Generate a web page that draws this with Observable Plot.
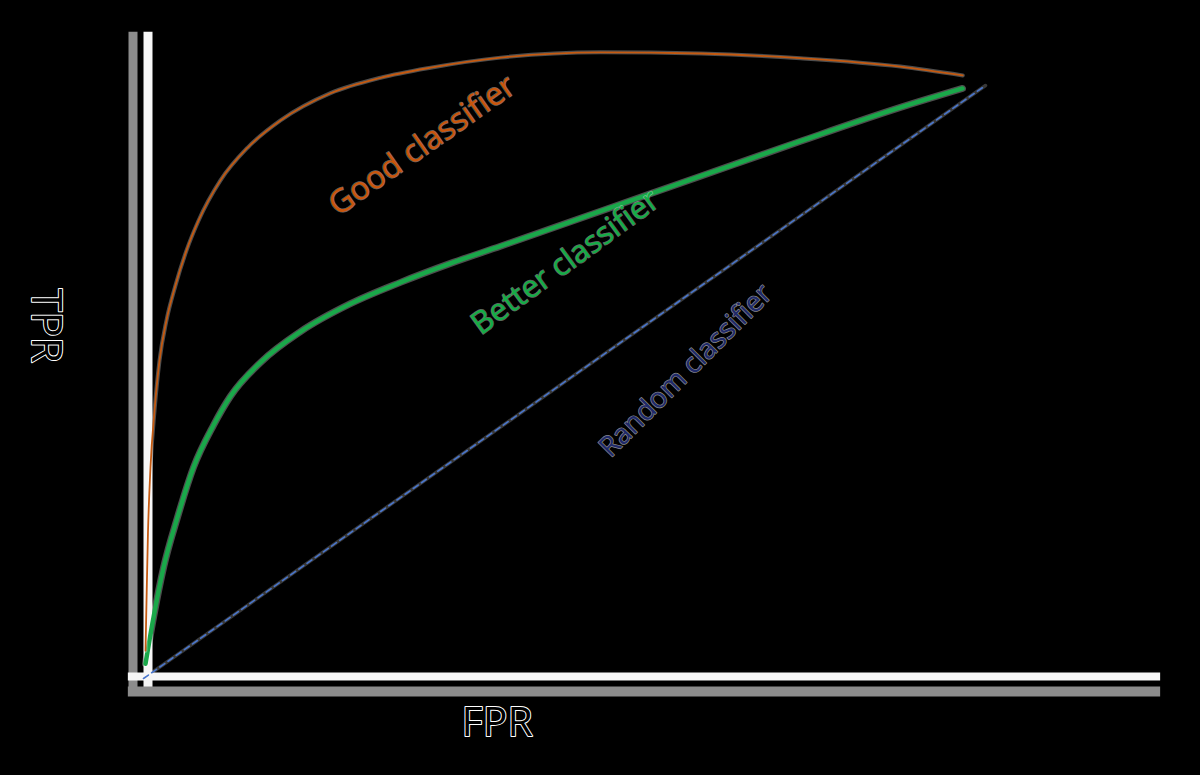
<!DOCTYPE html>
<html>
<head>
<meta charset="utf-8">
<script src="https://cdn.jsdelivr.net/npm/d3@7"></script>
<script src="https://cdn.jsdelivr.net/npm/@observablehq/plot@0.6"></script>
<style>
  html, body { margin: 0; padding: 0; background: #000; }
  #chart svg { display: block; }
</style>
</head>
<body>
<div id="chart"></div>
<script>
// ---- data ----
const goodFPR = [0.0024, 0.0036, 0.0053, 0.0083, 0.0131, 0.0190, 0.0273, 0.0380, 0.0511, 0.0653, 0.0914, 0.1235, 0.1627, 0.2221, 0.2815, 0.3409, 0.424, 0.543, 0.662, 0.780, 0.899, 0.973];
const goodTPR = [0.047, 0.132, 0.245, 0.356, 0.452, 0.536, 0.604, 0.663, 0.722, 0.772, 0.840, 0.895, 0.941, 0.987, 1.013, 1.030, 1.047, 1.056, 1.054, 1.046, 1.032, 1.017];

const betterFPR = [0.0024, 0.0119, 0.0238, 0.0404, 0.0594, 0.0831, 0.1033, 0.1390, 0.1865, 0.2458, 0.3052, 0.3646, 0.4240, 0.5428, 0.6615, 0.7803, 0.8990, 0.9727];
const betterTPR = [0.025, 0.103, 0.187, 0.272, 0.356, 0.427, 0.476, 0.533, 0.585, 0.632, 0.668, 0.700, 0.729, 0.788, 0.847, 0.906, 0.963, 0.995];

const randomFPR = [0, 1];
const randomTPR = [0, 1];

const labelTexts = ["Good classifier", "Better classifier", "Random classifier"];
const labelFPR = [0.331, 0.501, 0.644];
const labelTPR = [0.899, 0.702, 0.519];

const xAxisExtent = [-0.018, 1.208];
const yAxisExtent = [-0.02, 1.09];

// ---- tables ----
const good = goodFPR.map((x, i) => ({x, y: goodTPR[i]}));
const better = betterFPR.map((x, i) => ({x, y: betterTPR[i]}));
const random = randomFPR.map((x, i) => ({x, y: randomTPR[i]}));

const font = "'Open Sans', 'Noto Sans', sans-serif";

const chart = Plot.plot({
  width: 1200,
  height: 775,
  margin: 0,
  style: {background: "#000", fontFamily: font},
  x: {domain: [0, 1], range: [143, 985], axis: null},
  y: {domain: [0, 1], range: [678, 85], axis: null},
  marks: [
    // axes (bands with halos)
    Plot.ruleX([0], {y1: yAxisExtent[0], y2: yAxisExtent[1], dx: -10.5, stroke: "#8c8c8c", strokeWidth: 9}),
    Plot.ruleX([0], {y1: yAxisExtent[0], y2: yAxisExtent[1], dx: 4.5, stroke: "#f6f6f6", strokeWidth: 9}),
    Plot.ruleY([0], {x1: xAxisExtent[0], x2: xAxisExtent[1], dy: 13, stroke: "#8c8c8c", strokeWidth: 10}),
    Plot.ruleY([0], {x1: xAxisExtent[0], x2: xAxisExtent[1], dy: -2, stroke: "#f6f6f6", strokeWidth: 8}),

    // random classifier
    Plot.line(random, {x: "x", y: "y", stroke: "white", strokeOpacity: 0.22, strokeWidth: 3.5}),
    Plot.line(random, {x: "x", y: "y", stroke: "#4a76cc", strokeWidth: 1.6, strokeDasharray: "6,4"}),

    // better classifier
    Plot.line(better, {x: "x", y: "y", curve: "monotone-x", stroke: "white", strokeOpacity: 0.3, strokeWidth: 7}),
    Plot.line(better, {x: "x", y: "y", curve: "monotone-x", stroke: "#1aa84a", strokeWidth: 4.5}),

    // good classifier
    Plot.line(good, {x: "x", y: "y", curve: "monotone-x", stroke: "white", strokeOpacity: 0.3, strokeWidth: 4}),
    Plot.line(good, {x: "x", y: "y", curve: "monotone-x", stroke: "#c55a11", strokeWidth: 1.8}),

    // curve labels
    Plot.text([0], {x: labelFPR[0], y: labelTPR[0], text: [labelTexts[0]], rotate: -35, fill: "#c9560c", stroke: "white", strokeWidth: 1.4, strokeOpacity: 0.4, fontSize: 32, fontFamily: font}),
    Plot.text([0], {x: labelFPR[1], y: labelTPR[1], text: [labelTexts[1]], rotate: -36, fill: "#14ad46", stroke: "white", strokeWidth: 1.4, strokeOpacity: 0.4, fontSize: 31, fontFamily: font}),
    Plot.text([0], {x: labelFPR[2], y: labelTPR[2], text: [labelTexts[2]], rotate: -45, fill: "#1f2a6a", stroke: "white", strokeWidth: 1.4, strokeOpacity: 0.55, fontSize: 28, fontFamily: font}),

    // axis titles
    Plot.text(["TPR"], {x: -0.116, y: 0.595, text: d => d, rotate: 90, fill: "#000", stroke: "white", strokeWidth: 2, fontSize: 42, fontFamily: font}),
    Plot.text(["FPR"], {x: 0.420, y: -0.074, text: d => d, fill: "#000", stroke: "white", strokeWidth: 2, fontSize: 41, fontFamily: font})
  ]
});

document.getElementById("chart").appendChild(chart);
</script>
</body>
</html>
